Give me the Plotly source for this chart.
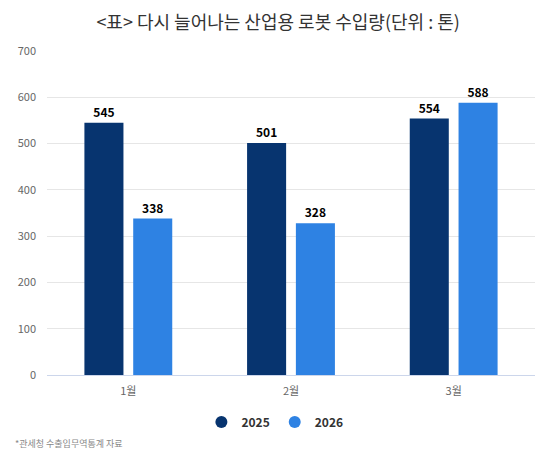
import plotly.graph_objects as go

months = ["1월", "2월", "3월"]
series_names = ["2025", "2026"]
values_2025 = [545, 501, 554]
values_2026 = [338, 328, 588]
colors = ["#07346f", "#2e82e3"]

font_kr = "Noto Sans CJK KR, Noto Sans, sans-serif"

fig = go.Figure()
for name, vals, col in zip(series_names, [values_2025, values_2026], colors):
    fig.add_trace(go.Bar(
        x=months, y=vals, name=name,
        marker_color=col, marker_line_width=0,
        text=vals, textposition="outside",
        textfont=dict(size=12, color="#000000", family=font_kr, weight="bold"),
        cliponaxis=False, showlegend=False,
    ))
    # circle markers for the legend
    fig.add_trace(go.Scatter(
        x=[None], y=[None], mode="markers", name=name,
        marker=dict(symbol="circle", size=12, color=col),
    ))

# page body has an 8px margin, so the figure is a bit smaller than the window
fig.update_layout(
    width=537, height=442,
    margin=dict(l=36, r=10, t=43, b=75),
    paper_bgcolor="#ffffff", plot_bgcolor="#ffffff",
    barmode="group", bargap=0.4, bargroupgap=0.2,
    font=dict(family=font_kr, color="#666666", size=11),
    title=dict(
        text="&lt;표&gt; 다시 늘어나는 산업용 로봇 수입량(단위 : 톤)",
        xref="container", x=0.503, xanchor="center",
        y=0.966, yanchor="middle",
        font=dict(size=18, color="#333333", family=font_kr),
    ),
    legend=dict(
        orientation="h", x=0.467, xanchor="center", y=-0.145, yanchor="middle",
        font=dict(size=12, color="#333333", family=font_kr, weight="bold"),
        itemwidth=30, traceorder="normal",
    ),
)

fig.update_xaxes(
    showline=True, linecolor="#ccd6eb", linewidth=1,
    showgrid=False, ticks="", ticklabelstandoff=6,
    tickfont=dict(size=11, color="#666666"),
)
fig.update_yaxes(
    range=[0, 700], dtick=100, showgrid=True, gridcolor="#e6e6e6",
    zeroline=False, ticks="", ticklabelstandoff=10,
    tickfont=dict(size=11, color="#666666"),
)

fig.add_annotation(
    text="*관세청 수출입무역통계 자료", xref="paper", yref="paper",
    x=-0.069, y=-0.21, xanchor="left", yanchor="middle", showarrow=False,
    font=dict(size=9, color="#888888", family=font_kr),
)

fig.write_html("out.html")
